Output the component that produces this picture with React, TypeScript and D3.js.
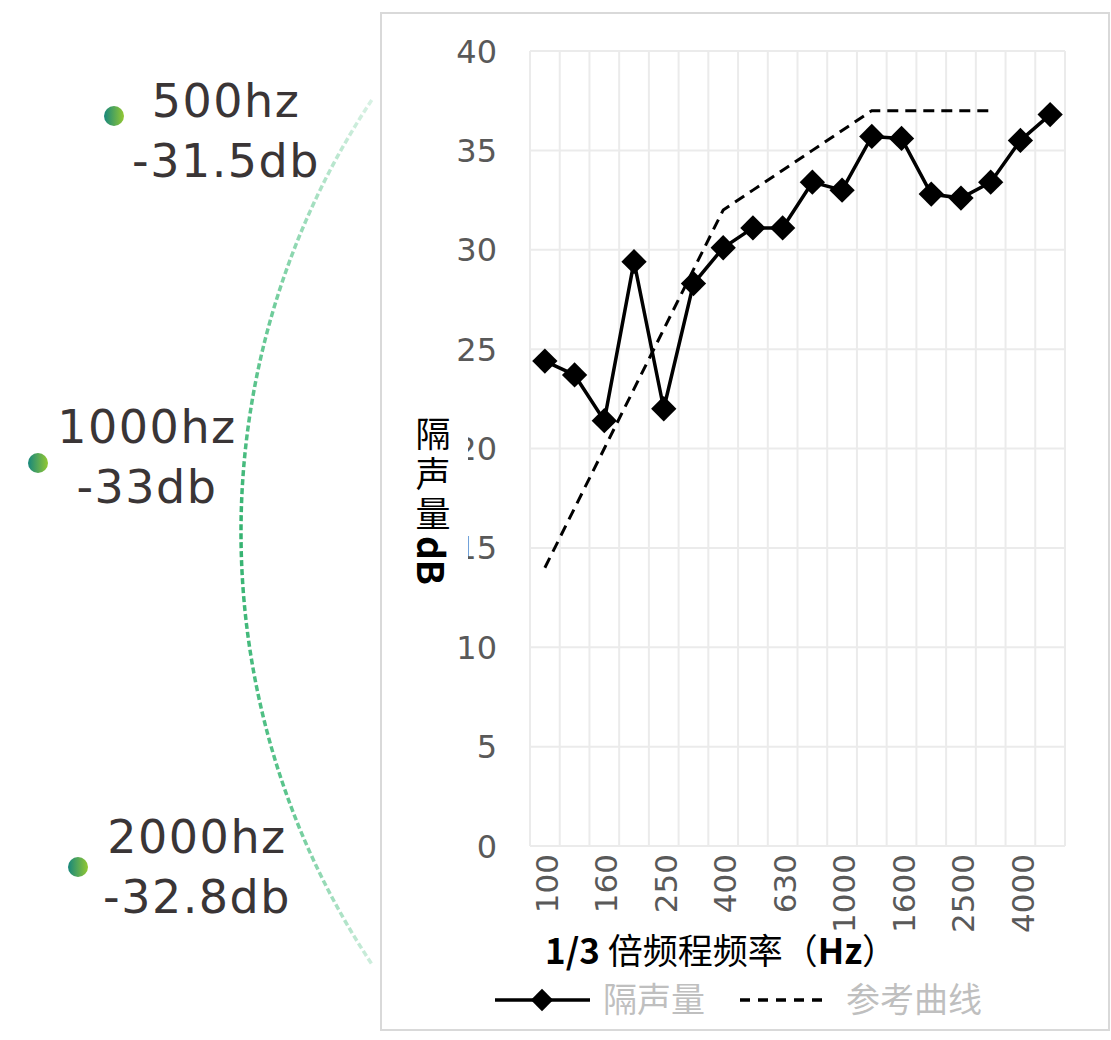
import * as d3 from "d3";

const FREQS = ["100", "125", "160", "200", "250", "315", "400", "500", "630", "800", "1000", "1250", "1600", "2000", "2500", "3150", "4000", "5000"];
const MEASURED = [24.4, 23.7, 21.4, 29.4, 22.0, 28.3, 30.1, 31.1, 31.1, 33.4, 33.0, 35.7, 35.6, 32.8, 32.6, 33.4, 35.5, 36.8];
const REFERENCE = [14, 17, 20, 23, 26, 29, 32, 33, 34, 35, 36, 37, 37, 37, 37, 37, null, null];
const Y_TICKS = [0, 5, 10, 15, 20, 25, 30, 35, 40];
const NOTES = [
  { freq: "500hz", db: "-31.5db" },
  { freq: "1000hz", db: "-33db" },
  { freq: "2000hz", db: "-32.8db" },
];

const W = 1111;
const H = 1040;
const PLOT = { left: 530, right: 1065, top: 51, bottom: 846 };
const TICK_COLOR = "#595959";
const GRID = "#ebebeb";

// note positions on the left (dot, text centre, first baseline)
const NOTE_POS = [
  { dot: [114, 116], cx: 226, y: 117 },
  { dot: [38, 463], cx: 147, y: 443 },
  { dot: [78, 867], cx: 197, y: 853 },
];

export default function App() {
  const x = d3.scaleBand().domain(FREQS).range([PLOT.left, PLOT.right]).padding(0);
  const y = d3.scaleLinear().domain([0, 40]).range([PLOT.bottom, PLOT.top]);
  const cx = (f: string) => (x(f) as number) + x.bandwidth() / 2;

  const line = d3
    .line<number>()
    .x((_, i) => cx(FREQS[i]))
    .y((d) => y(d));
  const refLine = d3
    .line<number | null>()
    .defined((d) => d != null)
    .x((_, i) => cx(FREQS[i]))
    .y((d) => y(d as number));

  const diamond = d3.symbol().type(d3.symbolSquare).size(320)() as string;
  const legendDiamond = d3.symbol().type(d3.symbolSquare).size(250)() as string;

  const boundaries = FREQS.map((f) => x(f) as number).concat([PLOT.right]);

  // big dashed arc on the left
  const arcCx = 1020, arcCy = 532, arcR = 779;
  const a0 = Math.asin((100 - arcCy) / arcR);
  const a1 = Math.asin((965 - arcCy) / arcR);
  const arcPath = d3.path();
  arcPath.arc(arcCx, arcCy, arcR, Math.PI - a0, Math.PI - a1, true);

  return (
    <svg width={W} height={H} style={{ position: "absolute", left: 0, top: 0, background: "#fff" }}>
      <defs>
        <linearGradient id="dotGrad" x1="0" x2="1" y1="0" y2="0">
          <stop offset="0%" stopColor="#17877c" />
          <stop offset="100%" stopColor="#93c832" />
        </linearGradient>
        <linearGradient id="arcGrad" gradientUnits="userSpaceOnUse" x1="0" x2="0" y1="100" y2="965">
          <stop offset="0%" stopColor="#3dba78" stopOpacity="0.2" />
          <stop offset="25%" stopColor="#3dba78" stopOpacity="0.75" />
          <stop offset="50%" stopColor="#34b270" stopOpacity="1" />
          <stop offset="80%" stopColor="#3dba78" stopOpacity="0.85" />
          <stop offset="100%" stopColor="#3dba78" stopOpacity="0.25" />
        </linearGradient>
      </defs>

      {/* left notes */}
      <path d={arcPath.toString()} fill="none" stroke="url(#arcGrad)" strokeWidth={3.5} strokeDasharray="6 3" />
      {NOTES.map((n, i) => (
        <g key={n.freq}>
          <circle cx={NOTE_POS[i].dot[0]} cy={NOTE_POS[i].dot[1]} r={10} fill="url(#dotGrad)" />
          <text x={NOTE_POS[i].cx} y={NOTE_POS[i].y} textAnchor="middle" fontFamily="DejaVu Sans" fontSize={46} letterSpacing={1.5} fill="#3a3536">
            {n.freq}
          </text>
          <text x={NOTE_POS[i].cx} y={NOTE_POS[i].y + 60} textAnchor="middle" fontFamily="DejaVu Sans" fontSize={46} letterSpacing={1.5} fill="#3a3536">
            {n.db}
          </text>
        </g>
      ))}

      {/* chart frame */}
      <rect x={381} y={13} width={728} height={1017} fill="#fff" stroke="#d9d9d9" strokeWidth={2} />

      {/* grid */}
      {Y_TICKS.map((t) => (
        <line key={"h" + t} x1={PLOT.left} x2={PLOT.right} y1={y(t)} y2={y(t)} stroke={GRID} strokeWidth={2} />
      ))}
      {boundaries.map((b, i) => (
        <line key={"v" + i} x1={b} x2={b} y1={PLOT.top} y2={PLOT.bottom} stroke={GRID} strokeWidth={2} />
      ))}

      {/* y ticks */}
      {Y_TICKS.map((t) => (
        <text key={"yt" + t} x={497} y={y(t)} dy="0.36em" textAnchor="end" fontFamily="DejaVu Sans" fontSize={32} fill={TICK_COLOR}>
          {t}
        </text>
      ))}

      {/* x ticks */}
      {FREQS.map((f, i) =>
        i % 2 === 0 ? (
          <text
            key={"xt" + f}
            transform={`translate(${cx(f) + 2},${PLOT.bottom + 8}) rotate(-90)`}
            dy="0.36em"
            textAnchor="end"
            fontFamily="DejaVu Sans"
            fontSize={31}
            fill={TICK_COLOR}
          >
            {f}
          </text>
        ) : null
      )}

      {/* y title, with a white box that hides part of the tick labels behind it */}
      <rect x={410} y={410} width={58} height={192} fill="#fff" />
      <text
        x={433}
        y={416}
        fontFamily="Noto Sans CJK SC"
        fontSize={35}
        fill="#000"
        style={{ writingMode: "vertical-rl" }}
      >
        <tspan letterSpacing={5}>隔声量</tspan>
        <tspan fontWeight="bold" fontSize={37}>dB</tspan>
      </text>

      {/* series */}
      <path d={refLine(REFERENCE) as string} fill="none" stroke="#000" strokeWidth={3} strokeDasharray="11 7" />
      <path d={line(MEASURED) as string} fill="none" stroke="#000" strokeWidth={3.5} />
      {MEASURED.map((v, i) => (
        <path key={"m" + i} d={diamond} transform={`translate(${cx(FREQS[i])},${y(v)}) rotate(45)`} fill="#000" />
      ))}

      {/* x title */}
      <text x={545} y={964} fontFamily="Noto Sans CJK SC" fontSize={35} fill="#000">
        <tspan fontWeight="bold">1/3</tspan> 倍频程频率（<tspan fontWeight="bold">Hz</tspan>）
      </text>

      {/* legend */}
      <line x1={495} x2={590} y1={1000} y2={1000} stroke="#000" strokeWidth={3.5} />
      <path d={legendDiamond} transform="translate(542,1000) rotate(45)" fill="#000" />
      <text x={603} y={1012} fontFamily="Noto Sans CJK SC" fontSize={34} fill="#bfbfbf">
        隔声量
      </text>
      <line x1={740} x2={830} y1={1000} y2={1000} stroke="#000" strokeWidth={3.5} strokeDasharray="10 8" />
      <text x={846} y={1012} fontFamily="Noto Sans CJK SC" fontSize={34} fill="#bfbfbf">
        参考曲线
      </text>
    </svg>
  );
}
